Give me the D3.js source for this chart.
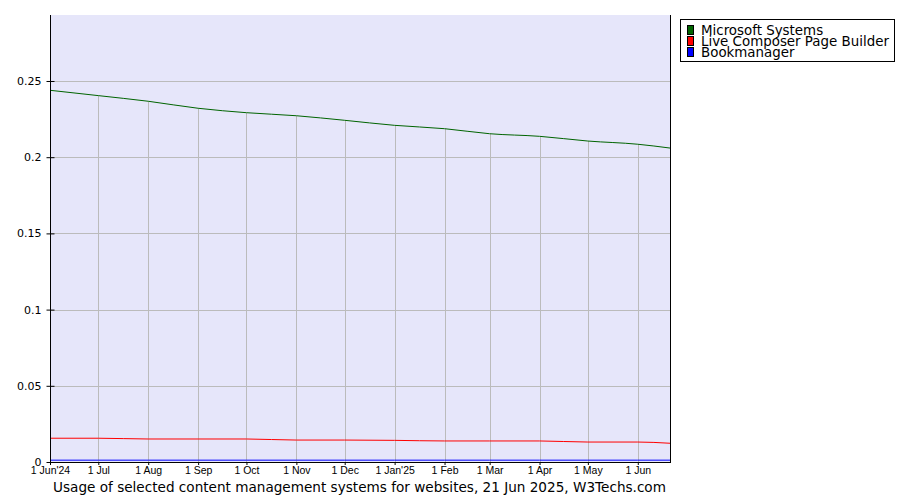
<!DOCTYPE html>
<html><head><meta charset="utf-8">
<script src="https://cdn.jsdelivr.net/npm/d3@7/dist/d3.min.js"></script>
<style>body{margin:0;background:#fff}svg{display:block}</style>
</head><body><svg id="c" width="900" height="500"></svg>
<script>
const dates = ["2024-06-01","2024-07-01","2024-08-01","2024-09-01","2024-10-01","2024-11-01","2024-12-01","2025-01-01","2025-02-01","2025-03-01","2025-04-01","2025-05-01","2025-06-01","2025-06-21"];
const seriesNames = ["Microsoft Systems","Live Composer Page Builder","Bookmanager"];
const seriesColors = ["#006400","#ff0000","#0000ff"];
const microsoft = [0.2439,0.2404,0.2367,0.2321,0.2292,0.2272,0.2242,0.2209,0.2187,0.2154,0.2137,0.2106,0.2085,0.2060];
const liveComposer = [0.0156,0.0156,0.0151,0.0151,0.0151,0.0144,0.0144,0.0142,0.0138,0.0138,0.0138,0.0131,0.0131,0.0123];
const bookmanager = [0.0012,0.0012,0.0012,0.0012,0.0012,0.0012,0.0012,0.0012,0.0012,0.0012,0.0012,0.0012,0.0012,0.0012];
const tickDates = ["2024-06-01","2024-07-01","2024-08-01","2024-09-01","2024-10-01","2024-11-01","2024-12-01","2025-01-01","2025-02-01","2025-03-01","2025-04-01","2025-05-01","2025-06-01"];
const tickLabels = ["1 Jun'24","1 Jul","1 Aug","1 Sep","1 Oct","1 Nov","1 Dec","1 Jan'25","1 Feb","1 Mar","1 Apr","1 May","1 Jun"];
const yTicks = [0,0.05,0.1,0.15,0.2,0.25];
const yMax = 0.2933;
const title = "Usage of selected content management systems for websites, 21 Jun 2025, W3Techs.com";

const parse = d3.utcParse("%Y-%m-%d");
const L=50,R=670,T=15,B=462;
const svg = d3.select("#c");
const x = d3.scaleUtc().domain([parse(dates[0]), parse(dates[dates.length-1])]).range([L,R]);
const y = d3.scaleLinear().domain([0,yMax]).range([B,T]);
const allSeries = [microsoft, liveComposer, bookmanager];

svg.append("rect").attr("x",L).attr("y",T).attr("width",R-L).attr("height",B-T).attr("fill","#e6e6fa");

// horizontal grid
svg.append("g").selectAll("line").data(yTicks.slice(1)).join("line")
  .attr("x1",L).attr("x2",R).attr("y1",d=>Math.round(y(d))+0.5).attr("y2",d=>Math.round(y(d))+0.5)
  .attr("stroke","#bbbbbb").attr("stroke-width",1);

const line = d3.line().x((d,i)=>x(parse(dates[i]))).y(d=>y(d)).curve(d3.curveMonotoneX);
const topInterp = d3.scaleUtc().domain(dates.map(parse)).range(microsoft);

// vertical grid (from bottom up to the top series)
svg.append("g").selectAll("line").data(tickDates.slice(1)).join("line")
  .attr("x1",d=>Math.round(x(parse(d)))+0.5).attr("x2",d=>Math.round(x(parse(d)))+0.5)
  .attr("y1",B).attr("y2",d=>y(topInterp(parse(d))))
  .attr("stroke","#bbbbbb").attr("stroke-width",1);

allSeries.forEach((s,i)=>{
  svg.append("path").attr("d",line(s)).attr("fill","none").attr("stroke",seriesColors[i]).attr("stroke-width",1);
});

// axes
const yAxis = d3.axisLeft(y).tickValues(yTicks).tickFormat(d=>d===0?"0":String(+d.toFixed(2))).tickSize(4).tickSizeOuter(0);
const gy = svg.append("g").attr("transform",`translate(${L+0.5},0)`).call(yAxis);
gy.select(".domain").remove();
gy.selectAll(".tick line").attr("x2",-4).attr("x1",4).attr("stroke","#000");
gy.selectAll(".tick text").attr("x",-9).attr("font-family","DejaVu Sans, Verdana, sans-serif").attr("font-size","11px").attr("fill","#000");

const xAxis = d3.axisBottom(x).tickValues(tickDates.map(parse)).tickFormat((d,i)=>tickLabels[i]).tickSize(3).tickSizeOuter(0);
const gx = svg.append("g").attr("transform",`translate(0,${B})`).call(xAxis);
gx.select(".domain").remove();
gx.selectAll(".tick line").attr("stroke","#000");
gx.selectAll(".tick text").attr("y",5).attr("font-family","Liberation Sans, Arial, sans-serif").attr("font-size","10.5px").attr("fill","#000");

svg.append("line").attr("x1",L+0.5).attr("x2",L+0.5).attr("y1",T).attr("y2",B+1).attr("stroke","#000");
svg.append("line").attr("x1",R+0.5).attr("x2",R+0.5).attr("y1",T).attr("y2",B+1).attr("stroke","#000");
svg.append("line").attr("x1",L).attr("x2",R+1).attr("y1",B+0.5).attr("y2",B+0.5).attr("stroke","#000");

// legend
const lg = svg.append("g");
lg.append("rect").attr("x",680.5).attr("y",19.5).attr("width",214).attr("height",42).attr("fill","#fff").attr("stroke","#000");
seriesNames.forEach((n,i)=>{
  lg.append("rect").attr("x",687.5).attr("y",25.5+i*11).attr("width",6).attr("height",9).attr("fill",seriesColors[i]).attr("stroke","#000");
  lg.append("text").attr("x",701).attr("y",34.5+i*11).text(n)
    .attr("font-family","DejaVu Sans, Verdana, sans-serif").attr("font-size","13.4px").attr("fill","#000");
});

svg.append("text").attr("x",359.5).attr("y",492).attr("text-anchor","middle").text(title)
  .attr("font-family","DejaVu Sans, Verdana, sans-serif").attr("font-size","13.6px").attr("fill","#000");
</script></body></html>
